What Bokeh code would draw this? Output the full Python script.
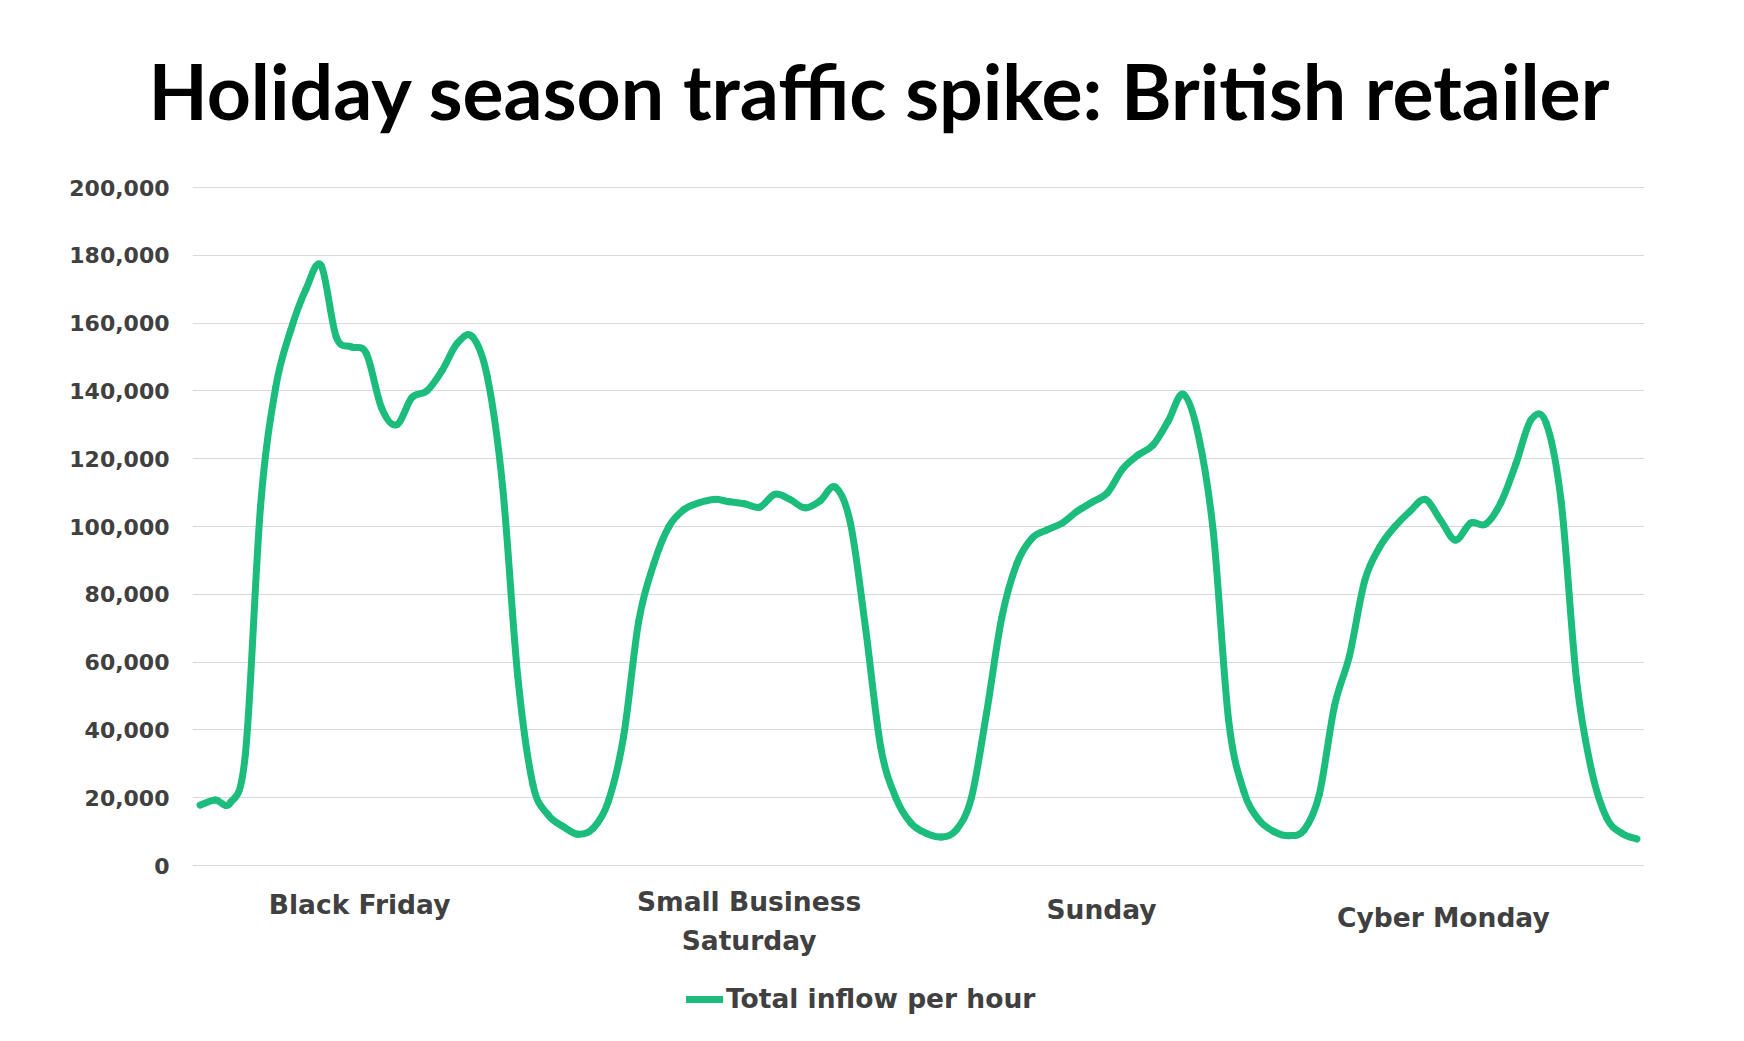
from bokeh.plotting import figure
from bokeh.models import (Range1d, Label, Legend, LegendItem, ColumnDataSource,
                          NumeralTickFormatter, FixedTicker)
from bokeh.embed import file_html
from bokeh.resources import INLINE

# ---------------- data (hourly total inflow) ----------------
day_names = ["Black Friday", "Small Business Saturday", "Sunday", "Cyber Monday"]

black_friday = [17800, 19300, 18500, 33000, 106000, 141000, 158000, 170000,
                177000, 156000, 153000, 151000, 135000, 130000, 138000, 140000,
                146000, 154000, 156000, 144000, 112000, 56000, 24000, 15000]

small_business_saturday = [11500, 9200, 11000, 19000, 38000, 72000, 89000, 100000,
                           105000, 107000, 108000, 107300, 106700, 105700, 109500, 108000,
                           105500, 107600, 111600, 101000, 70000, 35000, 20000, 12500]

sunday = [9500, 8400, 10500, 20000, 45000, 73000, 89000, 96500,
          99000, 101000, 104500, 107200, 110000, 117000, 121000, 124000,
          131000, 139000, 127000, 98000, 43000, 22000, 13500, 10000]

cyber_monday = [8800, 10500, 21000, 47000, 62000, 84000, 94000, 100000,
                104500, 108000, 102000, 96000, 101000, 100700, 107000, 118500,
                131500, 130500, 107000, 55000, 28000, 14000, 9500, 7800]

y_ticks = [0, 20000, 40000, 60000, 80000, 100000, 120000, 140000, 160000, 180000, 200000]
series_label = "Total inflow per hour"
title_text = "Holiday season traffic spike: British retailer"

inflow = black_friday + small_business_saturday + sunday + cyber_monday
hours = list(range(len(inflow)))

# ---------------- smoothed line (Catmull-Rom style Bezier, as in the source) ----------------
n = len(inflow)


def pt(i):
    i = min(max(i, 0), n - 1)
    return hours[i], inflow[i]


seg = {k: [] for k in ["x0", "y0", "x1", "y1", "cx0", "cy0", "cx1", "cy1"]}
for i in range(n - 1):
    xa, ya = pt(i - 1)
    xb, yb = pt(i)
    xc, yc = pt(i + 1)
    xd, yd = pt(i + 2)
    seg["x0"].append(xb); seg["y0"].append(yb)
    seg["x1"].append(xc); seg["y1"].append(yc)
    seg["cx0"].append(xb + (xc - xa) / 6.0); seg["cy0"].append(yb + (yc - ya) / 6.0)
    seg["cx1"].append(xc - (xd - xb) / 6.0); seg["cy1"].append(yc - (yd - yb) / 6.0)
src = ColumnDataSource(seg)

# ---------------- layout (pixels) ----------------
FIG_W, FIG_H = 1728, 1033
FRAME_L, FRAME_R = 192, 1644
FRAME_TOP = 177
Y_TOP_TICK_PX, Y_ZERO_PX = 187, 865          # pixel rows of 200,000 and 0
units_per_px = (y_ticks[-1] - y_ticks[0]) / (Y_ZERO_PX - Y_TOP_TICK_PX)
y_hi = y_ticks[-1] + (Y_TOP_TICK_PX - FRAME_TOP) * units_per_px
y_lo = y_ticks[0] - (FIG_H - Y_ZERO_PX) * units_per_px

GREEN = "#1CBD7C"
GREY_TXT = "#404040"
AX_FONT = "DejaVu Sans"

p = figure(width=FIG_W, height=FIG_H,
           x_range=Range1d(-0.5, n - 0.5), y_range=Range1d(y_lo, y_hi),
           output_backend="svg", toolbar_location=None,
           min_border_left=FRAME_L, min_border_right=FIG_W - FRAME_R,
           min_border_top=FRAME_TOP, min_border_bottom=0)
p.outline_line_color = None
p.background_fill_color = "white"
p.border_fill_color = "white"

p.title.text = title_text
p.title.align = "left"
p.title.offset = -44
p.title.standoff = 83
p.title.text_font = "Lato"
p.title.text_font_style = "bold"
p.title.text_font_size = "77px"
p.title.text_color = "#000000"

p.xaxis.visible = False
p.xgrid.visible = False
p.ygrid.grid_line_color = "#d9d9d9"
p.ygrid.grid_line_width = 1

p.yaxis.ticker = FixedTicker(ticks=y_ticks)
p.yaxis.formatter = NumeralTickFormatter(format="0,0")
p.yaxis.axis_line_color = None
p.yaxis.major_tick_line_color = None
p.yaxis.minor_tick_line_color = None
p.yaxis.major_label_text_font = AX_FONT
p.yaxis.major_label_text_font_style = "bold"
p.yaxis.major_label_text_font_size = "22px"
p.yaxis.major_label_text_color = GREY_TXT
p.yaxis.major_label_standoff = 17

r = p.bezier(x0="x0", y0="y0", x1="x1", y1="y1", cx0="cx0", cy0="cy0",
             cx1="cx1", cy1="cy1", source=src,
             line_color=GREEN, line_width=7, line_cap="round")

legend = Legend(items=[LegendItem(label=series_label, renderers=[r])],
                location=(494, 19), orientation="horizontal",
                glyph_width=37, glyph_height=20, label_standoff=3,
                padding=0, margin=0, spacing=0,
                border_line_alpha=0, background_fill_alpha=0,
                label_text_font=AX_FONT, label_text_font_style="bold",
                label_text_font_size="26.5px", label_text_color=GREY_TXT)
p.add_layout(legend)

# category labels under the axis (x in hours, y in value units below zero)
cat_labels = [
    ("Black Friday", 10.55, -11500),
    ("Small Business", 36.3, -10600),
    ("Saturday", 36.3, -22100),
    ("Sunday", 59.6, -13000),
    ("Cyber Monday", 82.2, -15200),
]
for txt, lx, ly in cat_labels:
    p.add_layout(Label(x=lx, y=ly, text=txt, text_align="center", text_baseline="middle",
                       text_font=AX_FONT, text_font_style="bold",
                       text_font_size="26.5px", text_color=GREY_TXT))

open("out.html", "w").write(file_html(p, INLINE))
